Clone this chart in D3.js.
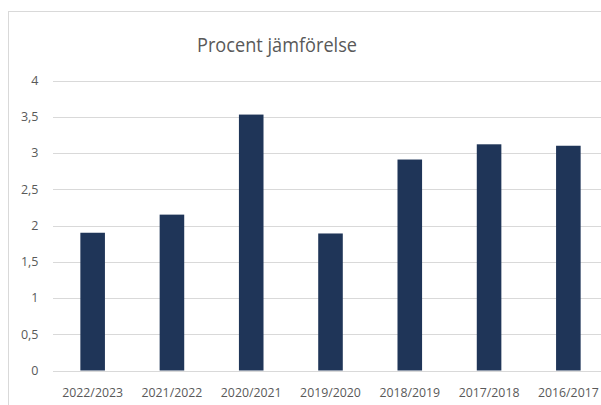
<!DOCTYPE html>
<html>
<head>
<meta charset="utf-8">
<script src="https://cdn.jsdelivr.net/npm/d3@7"></script>
<style>
  body { margin: 0; background: #fff; }
  text { font-family: "Open Sans", sans-serif; }
</style>
</head>
<body>
<div id="chart"></div>
<script>
// data
var seasons = ["2022/2023", "2021/2022", "2020/2021", "2019/2020", "2018/2019", "2017/2018", "2016/2017"];
var percent = [1.90, 2.15, 3.53, 1.89, 2.91, 3.12, 3.10];
var yTicks = [0, 0.5, 1, 1.5, 2, 2.5, 3, 3.5, 4];
var title = "Procent jämförelse";

var w = 601, h = 405;
var plotLeft = 53, plotRight = 608, plotTop = 80.5, plotBottom = 370.5;

var svg = d3.select("#chart").append("svg")
    .attr("width", w)
    .attr("height", h);

// chart frame (runs off the picture on the right and bottom)
svg.append("rect")
    .attr("x", 8.5).attr("y", 11.5)
    .attr("width", 700).attr("height", 500)
    .attr("fill", "none")
    .attr("stroke", "#d9d9d9");

var sv = d3.formatLocale({decimal: ",", thousands: " ", grouping: [3], currency: ["", " kr"]});
var fmt = sv.format("~g");

var x = d3.scaleBand().domain(seasons).range([plotLeft, plotRight])
    .paddingInner(0.69).paddingOuter(0.345);
var y = d3.scaleLinear().domain([0, 4]).range([plotBottom, plotTop]);

// gridlines
svg.append("g").selectAll("line").data(yTicks).enter().append("line")
    .attr("x1", plotLeft).attr("x2", w)
    .attr("y1", function(d){ return Math.round(y(d)) + 0.5; })
    .attr("y2", function(d){ return Math.round(y(d)) + 0.5; })
    .attr("stroke", "#d9d9d9")
    .attr("stroke-width", 1);

// y labels
svg.append("g").selectAll("text").data(yTicks).enter().append("text")
    .attr("x", 38.5)
    .attr("y", function(d){ return y(d); })
    .attr("dy", "0.35em")
    .attr("text-anchor", "end")
    .attr("font-size", "12.5px")
    .attr("fill", "#595959")
    .text(function(d){ return fmt(d); });

// bars
svg.append("g").selectAll("rect").data(percent).enter().append("rect")
    .attr("x", function(d, i){ return x(seasons[i]); })
    .attr("y", function(d){ return y(d); })
    .attr("width", x.bandwidth())
    .attr("height", function(d){ return y(0) - y(d); })
    .attr("fill", "#1f3558");

// x labels
svg.append("g").selectAll("text").data(seasons).enter().append("text")
    .attr("x", function(d){ return x(d) + x.bandwidth() / 2; })
    .attr("y", 397)
    .attr("text-anchor", "middle")
    .attr("font-size", "12.3px")
    .attr("fill", "#595959")
    .text(function(d){ return d; });

// title
svg.append("text")
    .attr("x", 277)
    .attr("y", 52)
    .attr("text-anchor", "middle")
    .attr("font-size", "20.5px")
    .attr("textLength", 160)
    .attr("lengthAdjust", "spacingAndGlyphs")
    .attr("fill", "#595959")
    .text(title);
</script>
</body>
</html>
